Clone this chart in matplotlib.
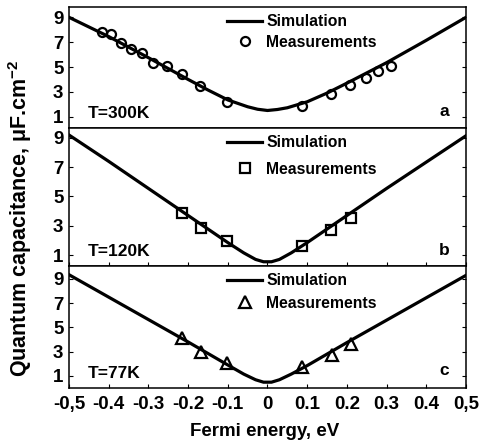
import matplotlib
matplotlib.use("Agg")
import matplotlib.pyplot as plt

plt.rcParams['font.family'] = ['Liberation Sans', 'DejaVu Sans']
plt.rcParams['font.weight'] = 'bold'
plt.rcParams['mathtext.fontset'] = 'custom'
plt.rcParams['mathtext.rm'] = 'Liberation Sans:bold'
plt.rcParams['mathtext.bf'] = 'Liberation Sans:bold'
plt.rcParams['mathtext.default'] = 'bf'

# ---------------- data ----------------
xticks = [-0.5, -0.4, -0.3, -0.2, -0.1, 0.0, 0.1, 0.2, 0.3, 0.4, 0.5]
xticklabels = ['-0,5', '-0.4', '-0.3', '-0.2', '-0.1', '0', '0.1', '0.2', '0.3', '0.4', '0,5']
yticks = [1, 3, 5, 7, 9]

# Panel a: T=300K
sim_E_a = [-0.5, -0.4, -0.3, -0.2, -0.15, -0.1, -0.05, -0.025, 0.0, 0.025, 0.05, 0.1, 0.15, 0.2, 0.3, 0.4, 0.5]
sim_C_a = [9.0, 7.45, 5.75, 4.0, 3.15, 2.35, 1.8, 1.6, 1.5, 1.58, 1.72, 2.2, 2.9, 3.7, 5.35, 7.15, 9.0]
meas_E_a = [-0.417, -0.394, -0.369, -0.344, -0.316, -0.288, -0.253, -0.215, -0.170, -0.102,
            0.087, 0.160, 0.208, 0.248, 0.278, 0.311]
meas_C_a = [7.8, 7.64, 6.92, 6.44, 6.12, 5.32, 5.08, 4.44, 3.48, 2.2,
            1.88, 2.84, 3.56, 4.12, 4.68, 5.08]

# Panel b: T=120K
sim_E_b = [-0.5, -0.4, -0.3, -0.2, -0.1, -0.06, -0.03, -0.01, 0.01, 0.03, 0.06, 0.1, 0.2, 0.3, 0.4, 0.5]
sim_C_b = [9.2, 7.4, 5.55, 3.7, 1.85, 1.15, 0.7, 0.54, 0.54, 0.7, 1.15, 1.85, 3.7, 5.55, 7.35, 9.15]
meas_E_b = [-0.216, -0.168, -0.101, 0.088, 0.160, 0.210]
meas_C_b = [3.86, 2.87, 1.96, 1.62, 2.71, 3.51]

# Panel c: T=77K
sim_E_c = [-0.5, -0.4, -0.3, -0.2, -0.1, -0.06, -0.03, -0.01, 0.01, 0.03, 0.06, 0.1, 0.2, 0.3, 0.4, 0.5]
sim_C_c = [9.35, 7.5, 5.65, 3.8, 1.9, 1.15, 0.68, 0.48, 0.48, 0.68, 1.15, 1.85, 3.75, 5.6, 7.45, 9.3]
meas_E_c = [-0.216, -0.168, -0.101, 0.088, 0.162, 0.210]
meas_C_c = [4.09, 2.99, 2.04, 1.76, 2.72, 3.62]

temps = ['T=300K', 'T=120K', 'T=77K']
letters = ['a', 'b', 'c']
markers = ['o', 's', '^']

# ---------------- layout ----------------
W, H = 489, 446
fig = plt.figure(figsize=(W / 100, H / 100), dpi=100)

def rect(top, bottom, left=69, right=466):
    return [left / W, 1 - bottom / H, (right - left) / W, (bottom - top) / H]

panels = [
    dict(top=7, bottom=128, ylim=(0.09, 9.83), sim=(sim_E_a, sim_C_a), meas=(meas_E_a, meas_C_a),
         ms=6.5, leg_top=14, lspace=0.38, tb=0.083, lb=0.10),
    dict(top=128, bottom=266, ylim=(0.25, 9.68), sim=(sim_E_b, sim_C_b), meas=(meas_E_b, meas_C_b),
         ms=6.8, leg_top=135, lspace=0.76, tb=0.072, lb=0.08),
    dict(top=266, bottom=388, ylim=(0.0, 10.07), sim=(sim_E_c, sim_C_c), meas=(meas_E_c, meas_C_c),
         ms=8.5, leg_top=273, lspace=0.5, tb=0.082, lb=0.107),
]

for i, p in enumerate(panels):
    ax = fig.add_axes(rect(p['top'], p['bottom']))
    ax.plot(p['sim'][0], p['sim'][1], color='black', lw=2.3, label='Simulation',
            solid_joinstyle='round', zorder=2)
    ax.plot(p['meas'][0], p['meas'][1], linestyle='none', marker=markers[i], ms=p['ms'],
            mfc='none', mec='black', mew=1.6, label='Measurements', zorder=3)
    ax.set_xlim(-0.5, 0.5)
    ax.set_ylim(*p['ylim'])
    ax.set_yticks(yticks)
    ax.set_yticklabels([str(v) for v in yticks], fontsize=13.5, fontweight='bold')
    ax.set_xticks(xticks)
    ax.tick_params(axis='y', direction='in', length=3, width=0.8, left=True, right=True, pad=4)
    if i == 2:
        ax.set_xticklabels(xticklabels, fontsize=13.5, fontweight='bold')
        ax.tick_params(axis='x', direction='in', length=3, width=0.8, pad=6)
    else:
        ax.set_xticklabels([])
        if i == 0:
            ax.tick_params(axis='x', bottom=False)
        else:
            ax.tick_params(axis='x', direction='in', length=3, width=0.8)
    for s in ax.spines.values():
        s.set_linewidth(1.1)

    ax.text(0.048, p['tb'], temps[i], transform=ax.transAxes, fontsize=12.5,
            fontweight='bold', va='baseline', ha='left')
    ax.text(0.932, p['lb'], letters[i], transform=ax.transAxes, fontsize=12.5,
            fontweight='bold', va='baseline', ha='left')

    ax.legend(loc='upper left', bbox_to_anchor=(227 / W, 1 - p['leg_top'] / H),
              bbox_transform=fig.transFigure, frameon=False, borderpad=0,
              borderaxespad=0, handlelength=2.25, handletextpad=0.25,
              labelspacing=p['lspace'], prop=dict(size=11.3, weight='bold'))

fig.text(265 / W, 1 - 431 / H, 'Fermi energy, eV', ha='center', va='center',
         fontsize=13.5, fontweight='bold')
fig.text(20 / W, 1 - 218 / H, r'Quantum capacitance, μF.cm$^{-2}$', ha='center', va='center',
         rotation=90, fontsize=15.5, fontweight='bold')

fig.savefig('out.png', dpi=100)
